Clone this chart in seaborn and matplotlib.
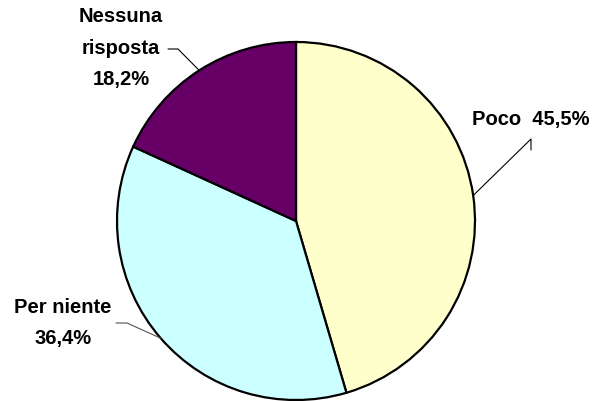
import numpy as np
import matplotlib.pyplot as plt
import seaborn as sns

# dati
categorie = ["Poco", "Per niente", "Nessuna risposta"]
valori = [45.5, 36.4, 18.2]
etichette = ["Poco  45,5%", "Per niente\n36,4%", "Nessuna\nrisposta\n18,2%"]
colori = ["#FFFFCC", "#CCFFFF", "#660066"]

sns.set_theme(style="white")
plt.rcParams['font.family'] = ['Liberation Sans', 'DejaVu Sans']

fig = plt.figure(figsize=(5.96, 4.01), dpi=100)
ax = fig.add_axes([0, 0, 1, 1])

centro = (296, 180)
raggio = 179
wedges, _ = ax.pie(valori, colors=sns.color_palette(colori), startangle=90,
                   counterclock=False, center=centro, radius=raggio,
                   wedgeprops=dict(edgecolor='black', linewidth=1.6),
                   frame=True)
ax.set_xlim(0, 596)
ax.set_ylim(0, 401)
ax.set_aspect('equal')
ax.axis('off')

# posizione etichette e gomito della linea guida
pos_testo = [(531, 282), (63, 78), (121, 353)]
gomiti = [[(531, 262), (531, 251)],
          [(127, 78), (116, 78)],
          [(178, 352), (168, 352)]]
colori_linee = ["black", "#555555", "black"]

for w, lab, pt, gm, cl in zip(wedges, etichette, pos_testo, gomiti, colori_linee):
    ang = np.deg2rad((w.theta1 + w.theta2) / 2)
    bordo = (centro[0] + raggio * np.cos(ang), centro[1] + raggio * np.sin(ang))
    xs = [bordo[0]] + [p[0] for p in gm]
    ys = [bordo[1]] + [p[1] for p in gm]
    ax.plot(xs, ys, color=cl, linewidth=0.8, zorder=3)
    ax.text(pt[0], pt[1], lab, ha='center', va='center', fontsize=14.5,
            fontweight='bold', linespacing=1.8, color='black')

fig.savefig("out.png", dpi=100)
